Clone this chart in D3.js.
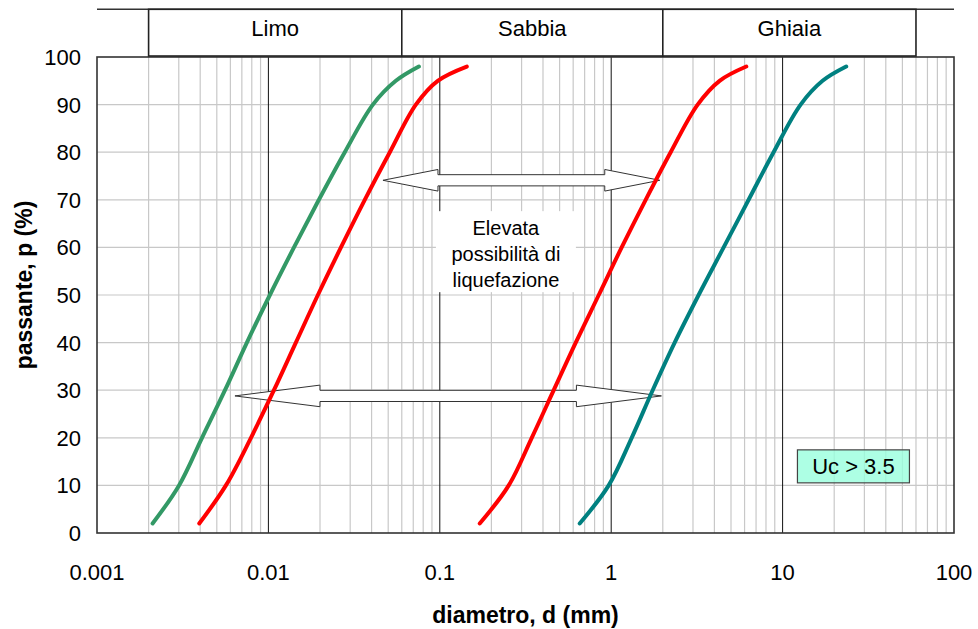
<!DOCTYPE html>
<html>
<head>
<meta charset="utf-8">
<script src="https://cdn.jsdelivr.net/npm/d3@7"></script>
<style>
  html, body { margin: 0; padding: 0; background: #fff; }
  svg { display: block; font-family: "Liberation Sans", Arial, Helvetica, sans-serif; }
</style>
</head>
<body>
<svg id="chart" width="978" height="629"></svg>
<script>
// ---- Data ----
const pValues = [2, 10, 20, 30, 40, 50, 60, 70, 80, 90, 95, 98];
const greenD  = [0.00211, 0.00301, 0.00410, 0.00558, 0.00749, 0.0102, 0.0141, 0.0197, 0.0279, 0.0407, 0.0554, 0.0755];
const red1D   = [0.00395, 0.00565, 0.00791, 0.01077, 0.01446, 0.01944, 0.0265, 0.0365, 0.0511, 0.0725, 0.0973, 0.1437];
const red2D   = [0.171, 0.2525, 0.344, 0.462, 0.621, 0.846, 1.151, 1.589, 2.223, 3.195, 4.29, 6.14];
const tealD   = [0.655, 0.967, 1.317, 1.746, 2.346, 3.237, 4.529, 6.334, 8.86, 12.74, 17.11, 23.5];
const curveColors = ["#339966", "#ff0000", "#ff0000", "#008080"];

const xTickValues = [0.001, 0.01, 0.1, 1, 10, 100];
const xTickLabels = ["0.001", "0.01", "0.1", "1", "10", "100"];
const yTickValues = [0, 10, 20, 30, 40, 50, 60, 70, 80, 90, 100];

const classLimits = [0.002, 0.06, 2, 60];
const classNames  = ["Limo", "Sabbia", "Ghiaia"];

// arrows: [dLeft, dRight, p]
const arrowLeftD  = [0.0466, 0.00638];
const arrowRightD = [1.92, 1.963];
const arrowP      = [74.1, 28.8];

const noteLines = ["Elevata", "possibilità di", "liquefazione"];
const noteAt = [0.243, 59];      // [d, p]
const ucLabel = "Uc > 3.5";
const ucAt = [25.9, 14];         // [d, p]

const xTitle = "diametro, d (mm)";
const yTitle = "passante, p (%)";

// ---- Scales ----
const svg = d3.select("#chart");
const x = d3.scaleLog().domain([0.001, 100]).range([97, 954]);
const y = d3.scaleLinear().domain([0, 100]).range([533, 57]);

// ---- Grid ----
const grid = svg.append("g");
const allX = x.ticks(); // 1..9 per decade
const isMajor = v => Math.abs(Math.log10(v) - Math.round(Math.log10(v))) < 1e-9;
grid.selectAll("line.minor").data(allX.filter(v => !isMajor(v)))
  .join("line").attr("class", "minor")
  .attr("x1", d => x(d)).attr("x2", d => x(d))
  .attr("y1", y(0)).attr("y2", y(100))
  .attr("stroke", "#c8c8c8").attr("stroke-width", 1.2);
grid.selectAll("line.h").data(yTickValues.filter(v => v > 0 && v < 100))
  .join("line").attr("class", "h")
  .attr("x1", x(0.001)).attr("x2", x(100))
  .attr("y1", d => y(d)).attr("y2", d => y(d))
  .attr("stroke", "#c8c8c8").attr("stroke-width", 1.2);
grid.selectAll("line.major").data(xTickValues.slice(1, -1))
  .join("line").attr("class", "major")
  .attr("x1", d => x(d)).attr("x2", d => x(d))
  .attr("y1", y(0)).attr("y2", y(100))
  .attr("stroke", "#111").attr("stroke-width", 1);

// ---- Note box (white, hides grid) ----
const nx = x(noteAt[0]), ny = y(noteAt[1]);
svg.append("rect")
  .attr("x", nx - 70).attr("y", ny - 41).attr("width", 140).attr("height", 81)
  .attr("fill", "#fff");

// ---- Arrows ----
function arrowPath(x1, x2, yc, h, s, w) {
  return `M${x1},${yc} L${x1 + h},${yc - w} L${x1 + h},${yc - s} L${x2 - h},${yc - s} L${x2 - h},${yc - w} L${x2},${yc} L${x2 - h},${yc + w} L${x2 - h},${yc + s} L${x1 + h},${yc + s} L${x1 + h},${yc + w} Z`;
}
const headLen = [55, 85];
svg.append("g").selectAll("path").data(arrowP)
  .join("path")
  .attr("d", (p, i) => arrowPath(x(arrowLeftD[i]), x(arrowRightD[i]), y(p), headLen[i], 5.6, 10.8))
  .attr("fill", "#fff").attr("stroke", "#333").attr("stroke-width", 1);

// ---- Curves ----
const series = [greenD, red1D, red2D, tealD];
const line = d3.line()
  .x(d => x(d[0])).y(d => y(d[1]))
  .curve(d3.curveCatmullRom.alpha(0.5));
svg.append("g").selectAll("path").data(series)
  .join("path")
  .attr("d", ds => line(ds.map((d, i) => [d, pValues[i]])))
  .attr("fill", "none")
  .attr("stroke", (d, i) => curveColors[i])
  .attr("stroke-width", 4)
  .attr("stroke-linecap", "round")
  .attr("stroke-linejoin", "round");

// ---- Note text ----
svg.append("g").selectAll("text").data(noteLines)
  .join("text")
  .attr("x", nx).attr("y", (d, i) => ny - 17 + i * 26)
  .attr("text-anchor", "middle")
  .attr("font-size", 20).attr("fill", "#000")
  .text(d => d);

// ---- Uc box ----
const ux = x(ucAt[0]), uy = y(ucAt[1]);
svg.append("rect")
  .attr("x", ux - 56).attr("y", uy - 16.5).attr("width", 112).attr("height", 33)
  .attr("fill", "#99ffdd").attr("fill-opacity", 0.8)
  .attr("stroke", "#444").attr("stroke-width", 1.2);
svg.append("text")
  .attr("x", ux).attr("y", uy + 8)
  .attr("text-anchor", "middle").attr("font-size", 22).attr("fill", "#000")
  .text(ucLabel);

// ---- Plot border ----
svg.append("rect")
  .attr("x", x(0.001)).attr("y", y(100))
  .attr("width", x(100) - x(0.001)).attr("height", y(0) - y(100))
  .attr("fill", "none").attr("stroke", "#333").attr("stroke-width", 1.6);

// ---- Header classes ----
const hdr = svg.append("g");
const hTop = 9.3;
hdr.append("line")
  .attr("x1", x(0.001)).attr("x2", x(100))
  .attr("y1", hTop).attr("y2", hTop)
  .attr("stroke", "#333").attr("stroke-width", 1.6);
hdr.append("rect")
  .attr("x", x(classLimits[0])).attr("y", hTop)
  .attr("width", x(classLimits[3]) - x(classLimits[0]))
  .attr("height", y(100) - hTop - 1)
  .attr("fill", "none").attr("stroke", "#222").attr("stroke-width", 1.6);
hdr.selectAll("line.div").data(classLimits.slice(1, -1))
  .join("line").attr("class", "div")
  .attr("x1", d => x(d)).attr("x2", d => x(d))
  .attr("y1", hTop).attr("y2", y(100))
  .attr("stroke", "#222").attr("stroke-width", 1.6);
hdr.selectAll("text").data(classNames)
  .join("text")
  .attr("x", (d, i) => (x(classLimits[i]) + x(classLimits[i + 1])) / 2)
  .attr("y", 36)
  .attr("text-anchor", "middle").attr("font-size", 22).attr("fill", "#000")
  .text(d => d);

// ---- Tick labels ----
svg.append("g").selectAll("text").data(yTickValues)
  .join("text")
  .attr("x", 81).attr("y", d => y(d) + 8)
  .attr("text-anchor", "end").attr("font-size", 22).attr("fill", "#000")
  .text(d => d);
svg.append("g").selectAll("text").data(xTickValues)
  .join("text")
  .attr("x", d => x(d)).attr("y", 580)
  .attr("text-anchor", "middle").attr("font-size", 22).attr("fill", "#000")
  .text((d, i) => xTickLabels[i]);

// ---- Titles ----
svg.append("text")
  .attr("x", (x(0.001) + x(100)) / 2).attr("y", 623)
  .attr("text-anchor", "middle").attr("font-size", 23).attr("font-weight", "bold")
  .text(xTitle);
svg.append("text")
  .attr("transform", "translate(32,285) rotate(-90)")
  .attr("text-anchor", "middle").attr("font-size", 23).attr("font-weight", "bold")
  .text(yTitle);
</script>
</body>
</html>
